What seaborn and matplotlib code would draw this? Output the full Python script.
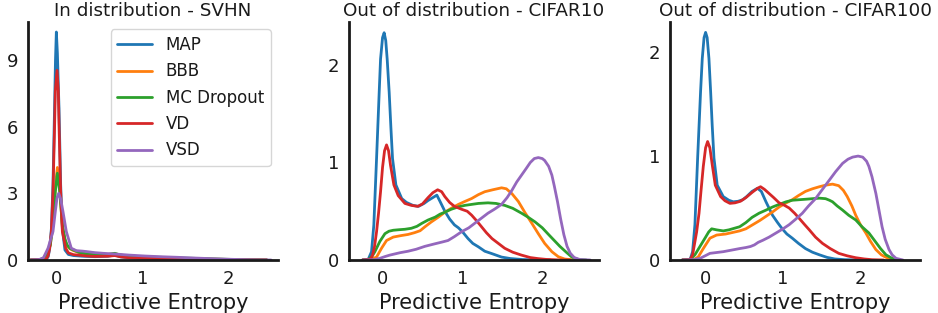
import numpy as np
import pandas as pd
import matplotlib
matplotlib.use("Agg")
import matplotlib.pyplot as plt
import seaborn as sns

methods = ["MAP", "BBB", "MC Dropout", "VD", "VSD"]
colors = ["#1f77b4", "#ff7f0e", "#2ca02c", "#d62728", "#9467bd"]
titles = ["In distribution - SVHN", "Out of distribution - CIFAR10", "Out of distribution - CIFAR100"]
xlabel = "Predictive Entropy"

# ---------------- Panel 1: SVHN (density curves) ----------------
svhn_map_x = [-0.3, -0.12, -0.095, -0.078, -0.058, -0.039, -0.02, -0.01, 0.0, 0.012, 0.031, 0.05, 0.07, 0.1, 0.14, 0.2, 0.3, 0.45, 0.6, 0.68, 0.75, 0.85, 1.0, 1.2, 1.4, 1.6, 1.8, 2.0, 2.2, 2.45]
svhn_map_y = [0, 0.02, 0.15, 0.5, 1.4, 3.4, 7.0, 9.0, 10.25, 9.3, 6.8, 3.4, 1.4, 0.45, 0.25, 0.2, 0.17, 0.15, 0.17, 0.22, 0.14, 0.1, 0.08, 0.06, 0.04, 0.03, 0.02, 0.01, 0.005, 0]
svhn_bbb_x = [-0.3, -0.2, -0.15, -0.1, -0.07, -0.039, -0.012, 0.012, 0.039, 0.07, 0.1, 0.124, 0.16, 0.2, 0.26, 0.35, 0.45, 0.6, 0.68, 0.75, 0.85, 1.0, 1.2, 1.4, 1.6, 1.8, 2.0, 2.2, 2.45]
svhn_bbb_y = [0, 0.01, 0.05, 0.3, 0.7, 1.7, 3.3, 4.16, 3.2, 1.5, 0.9, 0.65, 0.5, 0.42, 0.34, 0.28, 0.24, 0.25, 0.28, 0.22, 0.17, 0.14, 0.11, 0.08, 0.06, 0.04, 0.025, 0.01, 0]
svhn_mc_x = [-0.3, -0.2, -0.15, -0.1, -0.07, -0.039, -0.012, 0.012, 0.039, 0.07, 0.1, 0.124, 0.16, 0.2, 0.26, 0.35, 0.45, 0.6, 0.68, 0.75, 0.85, 1.0, 1.22, 1.4, 1.6, 1.8, 2.0, 2.2, 2.45]
svhn_mc_y = [0, 0.01, 0.08, 0.35, 0.68, 1.58, 3.08, 3.9, 3.08, 1.58, 0.95, 0.68, 0.52, 0.45, 0.35, 0.27, 0.23, 0.25, 0.3, 0.22, 0.18, 0.15, 0.12, 0.09, 0.075, 0.05, 0.03, 0.012, 0]
svhn_vd_x = [-0.3, -0.12, -0.095, -0.078, -0.058, -0.039, -0.02, -0.012, 0.008, 0.023, 0.031, 0.05, 0.07, 0.109, 0.14, 0.2, 0.26, 0.35, 0.45, 0.6, 0.68, 0.75, 0.85, 1.0, 1.22, 1.4, 1.6, 1.8, 2.0, 2.2, 2.45]
svhn_vd_y = [0, 0.03, 0.2, 0.53, 1.28, 3.08, 6.1, 7.6, 8.53, 7.6, 6.1, 3.08, 1.28, 0.53, 0.32, 0.24, 0.22, 0.18, 0.16, 0.17, 0.2, 0.14, 0.1, 0.08, 0.06, 0.045, 0.03, 0.02, 0.01, 0.005, 0]
svhn_vsd_x = [-0.3, -0.2, -0.15, -0.097, -0.039, -0.012, 0.008, 0.027, 0.05, 0.077, 0.116, 0.174, 0.233, 0.3, 0.35, 0.45, 0.55, 0.68, 0.85, 1.03, 1.2, 1.42, 1.6, 1.81, 2.0, 2.19, 2.35, 2.5]
svhn_vsd_y = [0, 0.02, 0.1, 0.53, 1.28, 2.18, 2.8, 3.0, 2.75, 2.18, 1.28, 0.53, 0.42, 0.4, 0.38, 0.33, 0.3, 0.27, 0.22, 0.18, 0.15, 0.12, 0.09, 0.06, 0.035, 0.015, 0.004, 0]

# ---------------- Panel 2: CIFAR10 ----------------
c10_map_x = [-0.25, -0.18, -0.138, -0.109, -0.075, -0.042, -0.025, 0.0, 0.02, 0.04, 0.058, 0.083, 0.105, 0.125, 0.167, 0.24, 0.30, 0.38, 0.45, 0.52, 0.57, 0.63, 0.68, 0.72, 0.78, 0.84, 0.90, 0.95, 1.0, 1.07, 1.13, 1.2, 1.28, 1.37, 1.49, 1.6, 1.75, 1.9, 2.1]
c10_map_y = [0, 0.005, 0.085, 0.36, 1.04, 1.72, 2.06, 2.28, 2.33, 2.25, 2.06, 1.72, 1.35, 1.04, 0.77, 0.63, 0.59, 0.56, 0.55, 0.58, 0.61, 0.64, 0.665, 0.6, 0.5, 0.42, 0.36, 0.33, 0.29, 0.22, 0.17, 0.135, 0.09, 0.065, 0.03, 0.015, 0.005, 0.001, 0]
c10_bbb_x = [-0.25, -0.15, -0.075, -0.013, 0.05, 0.134, 0.23, 0.32, 0.4, 0.47, 0.53, 0.61, 0.7, 0.78, 0.87, 0.95, 1.03, 1.115, 1.2, 1.28, 1.38, 1.49, 1.55, 1.62, 1.70, 1.78, 1.87, 1.95, 2.03, 2.12, 2.2, 2.28, 2.4]
c10_bbb_y = [0, 0.005, 0.03, 0.12, 0.2, 0.235, 0.25, 0.262, 0.28, 0.3, 0.34, 0.39, 0.44, 0.49, 0.535, 0.57, 0.6, 0.63, 0.67, 0.70, 0.72, 0.74, 0.73, 0.68, 0.6, 0.49, 0.375, 0.27, 0.17, 0.085, 0.034, 0.01, 0]
c10_mc_x = [-0.25, -0.18, -0.138, -0.096, -0.034, 0.03, 0.08, 0.134, 0.2, 0.28, 0.36, 0.43, 0.49, 0.57, 0.66, 0.72, 0.78, 0.86, 0.95, 1.03, 1.115, 1.2, 1.32, 1.42, 1.53, 1.63, 1.74, 1.82, 1.91, 2.0, 2.08, 2.15, 2.22, 2.3, 2.37, 2.45, 2.55]
c10_mc_y = [0, 0.005, 0.03, 0.085, 0.19, 0.27, 0.295, 0.305, 0.31, 0.315, 0.325, 0.345, 0.375, 0.41, 0.44, 0.47, 0.49, 0.52, 0.545, 0.56, 0.57, 0.58, 0.586, 0.58, 0.56, 0.53, 0.48, 0.44, 0.39, 0.33, 0.26, 0.2, 0.14, 0.08, 0.03, 0.005, 0]
c10_vd_x = [-0.25, -0.15, -0.125, -0.1, -0.075, -0.05, -0.025, 0.0, 0.025, 0.05, 0.075, 0.1, 0.142, 0.196, 0.28, 0.36, 0.44, 0.5, 0.57, 0.63, 0.69, 0.74, 0.78, 0.84, 0.9, 0.99, 1.06, 1.115, 1.18, 1.24, 1.3, 1.37, 1.45, 1.53, 1.63, 1.74, 1.85, 1.95, 2.05, 2.2, 2.35]
c10_vd_y = [0, 0.01, 0.05, 0.14, 0.29, 0.48, 0.7, 0.95, 1.12, 1.18, 1.12, 0.97, 0.77, 0.66, 0.58, 0.56, 0.55, 0.575, 0.64, 0.69, 0.72, 0.70, 0.65, 0.59, 0.55, 0.52, 0.5, 0.46, 0.4, 0.34, 0.28, 0.22, 0.17, 0.12, 0.08, 0.05, 0.025, 0.014, 0.006, 0.001, 0]
c10_vsd_x = [-0.25, -0.1, -0.034, 0.03, 0.09, 0.22, 0.32, 0.42, 0.53, 0.65, 0.75, 0.82, 0.9, 0.99, 1.08, 1.16, 1.24, 1.32, 1.4, 1.49, 1.56, 1.62, 1.68, 1.74, 1.8, 1.85, 1.9, 1.95, 2.0, 2.03, 2.08, 2.12, 2.15, 2.19, 2.23, 2.27, 2.31, 2.35, 2.4, 2.47, 2.6]
c10_vsd_y = [0, 0.004, 0.017, 0.035, 0.05, 0.075, 0.09, 0.11, 0.14, 0.165, 0.185, 0.20, 0.24, 0.29, 0.33, 0.38, 0.43, 0.48, 0.52, 0.57, 0.64, 0.715, 0.8, 0.87, 0.94, 1.0, 1.04, 1.05, 1.04, 1.02, 0.96, 0.87, 0.76, 0.6, 0.42, 0.26, 0.14, 0.07, 0.025, 0.005, 0]

# ---------------- Panel 3: CIFAR100 ----------------
c100_map_x = [-0.3, -0.2, -0.168, -0.138, -0.103, -0.065, -0.043, -0.02, 0.0, 0.02, 0.043, 0.065, 0.085, 0.108, 0.15, 0.228, 0.3, 0.357, 0.42, 0.48, 0.53, 0.6, 0.67, 0.72, 0.78, 0.865, 0.93, 0.99, 1.05, 1.12, 1.2, 1.29, 1.38, 1.47, 1.57, 1.67, 1.8, 2.0]
c100_map_y = [0, 0.005, 0.08, 0.34, 0.98, 1.62, 1.94, 2.14, 2.19, 2.14, 1.94, 1.62, 1.3, 0.98, 0.72, 0.61, 0.575, 0.56, 0.565, 0.58, 0.61, 0.66, 0.69, 0.66, 0.56, 0.43, 0.36, 0.3, 0.25, 0.21, 0.16, 0.11, 0.075, 0.05, 0.025, 0.01, 0.003, 0]
c100_bbb_x = [-0.3, -0.15, -0.095, -0.03, 0.056, 0.142, 0.26, 0.35, 0.44, 0.52, 0.61, 0.7, 0.78, 0.87, 0.95, 1.03, 1.12, 1.2, 1.29, 1.38, 1.47, 1.55, 1.64, 1.72, 1.78, 1.83, 1.89, 1.94, 2.0, 2.07, 2.13, 2.2, 2.27, 2.33, 2.4, 2.5]
c100_bbb_y = [0, 0.005, 0.03, 0.11, 0.21, 0.24, 0.25, 0.265, 0.28, 0.30, 0.34, 0.38, 0.42, 0.465, 0.51, 0.545, 0.58, 0.62, 0.66, 0.685, 0.705, 0.72, 0.73, 0.715, 0.67, 0.61, 0.52, 0.43, 0.34, 0.26, 0.18, 0.1, 0.05, 0.026, 0.008, 0]
c100_mc_x = [-0.3, -0.2, -0.138, -0.073, -0.008, 0.04, 0.078, 0.142, 0.228, 0.3, 0.37, 0.44, 0.52, 0.6, 0.69, 0.78, 0.865, 0.95, 1.04, 1.12, 1.21, 1.3, 1.38, 1.47, 1.55, 1.6, 1.64, 1.7, 1.77, 1.85, 1.94, 2.02, 2.11, 2.18, 2.26, 2.33, 2.41, 2.5]
c100_mc_y = [0, 0.005, 0.05, 0.13, 0.21, 0.27, 0.30, 0.29, 0.28, 0.29, 0.305, 0.32, 0.36, 0.41, 0.45, 0.48, 0.51, 0.535, 0.56, 0.575, 0.58, 0.585, 0.59, 0.595, 0.59, 0.575, 0.56, 0.52, 0.48, 0.43, 0.385, 0.32, 0.26, 0.19, 0.11, 0.05, 0.016, 0]
c100_vd_x = [-0.3, -0.2, -0.168, -0.116, -0.085, -0.06, -0.03, 0.0, 0.026, 0.055, 0.087, 0.125, 0.194, 0.25, 0.314, 0.38, 0.45, 0.52, 0.6, 0.67, 0.71, 0.76, 0.82, 0.88, 0.95, 1.01, 1.08, 1.15, 1.21, 1.28, 1.34, 1.42, 1.51, 1.61, 1.72, 1.83, 1.94, 2.05, 2.15, 2.3]
c100_vd_y = [0, 0.005, 0.05, 0.27, 0.45, 0.66, 0.9, 1.08, 1.14, 1.08, 0.91, 0.72, 0.61, 0.57, 0.545, 0.55, 0.565, 0.6, 0.65, 0.69, 0.705, 0.68, 0.64, 0.6, 0.55, 0.53, 0.5, 0.45, 0.4, 0.34, 0.29, 0.22, 0.16, 0.11, 0.064, 0.04, 0.022, 0.01, 0.003, 0]
c100_vsd_x = [-0.3, -0.15, -0.07, 0.056, 0.228, 0.37, 0.44, 0.52, 0.58, 0.63, 0.68, 0.74, 0.82, 0.91, 1.0, 1.08, 1.16, 1.25, 1.33, 1.42, 1.51, 1.6, 1.68, 1.77, 1.84, 1.9, 1.97, 2.03, 2.08, 2.11, 2.15, 2.2, 2.24, 2.28, 2.32, 2.37, 2.41, 2.46, 2.55]
c100_vsd_y = [0, 0.004, 0.016, 0.064, 0.08, 0.1, 0.11, 0.12, 0.13, 0.145, 0.17, 0.19, 0.22, 0.26, 0.3, 0.34, 0.39, 0.45, 0.52, 0.59, 0.68, 0.77, 0.85, 0.93, 0.97, 0.99, 1.0, 0.99, 0.95, 0.9, 0.8, 0.64, 0.48, 0.32, 0.2, 0.1, 0.05, 0.016, 0]

panels = [
    [(svhn_map_x, svhn_map_y), (svhn_bbb_x, svhn_bbb_y), (svhn_mc_x, svhn_mc_y), (svhn_vd_x, svhn_vd_y), (svhn_vsd_x, svhn_vsd_y)],
    [(c10_map_x, c10_map_y), (c10_bbb_x, c10_bbb_y), (c10_mc_x, c10_mc_y), (c10_vd_x, c10_vd_y), (c10_vsd_x, c10_vsd_y)],
    [(c100_map_x, c100_map_y), (c100_bbb_x, c100_bbb_y), (c100_mc_x, c100_mc_y), (c100_vd_x, c100_vd_y), (c100_vsd_x, c100_vsd_y)],
]
yticks = [[0, 3, 6, 9], [0, 1, 2], [0, 1, 2]]
ylims = [(0, 10.7), (0, 2.44), (0, 2.29)]
xlims = [(-0.33, 2.58), (-0.42, 2.71), (-0.46, 2.77)]

sns.set_style("white", {"axes.edgecolor": ".1", "text.color": ".1",
                        "xtick.color": ".1", "ytick.color": ".1", "axes.labelcolor": ".1"})
plt.rcParams["font.family"] = ["DejaVu Sans"]
plt.rcParams["axes.linewidth"] = 2.0

fig = plt.figure(figsize=(9.38, 3.13), dpi=100)
lefts = [28 / 938, 349 / 938, 670 / 938]
for i in range(3):
    ax = fig.add_axes([lefts[i], 53 / 313, 250 / 938, 238 / 313])
    for (xs, ys), name, col in zip(panels[i], methods, colors):
        df = pd.DataFrame({"x": xs, "y": ys})
        sns.lineplot(data=df, x="x", y="y", color=col, linewidth=2.0,
                     label=name if i == 0 else None, ax=ax,
                     estimator=None, sort=False)
    ax.set_xlim(*xlims[i])
    ax.set_ylim(*ylims[i])
    ax.set_xticks([0, 1, 2])
    ax.set_yticks(yticks[i])
    ax.tick_params(axis="both", labelsize=13, length=0, pad=7)
    ax.set_xlabel(xlabel, fontsize=15, labelpad=4)
    ax.set_ylabel("")
    ax.set_title(titles[i], fontsize=13.2, pad=4)
    sns.despine(ax=ax)
    if i == 0:
        ax.legend(loc="upper right", fontsize=12, handlelength=2.1, frameon=True,
                  borderaxespad=0.45)
    else:
        leg = ax.get_legend()
        if leg is not None:
            leg.remove()

fig.savefig("out.png", dpi=100)
